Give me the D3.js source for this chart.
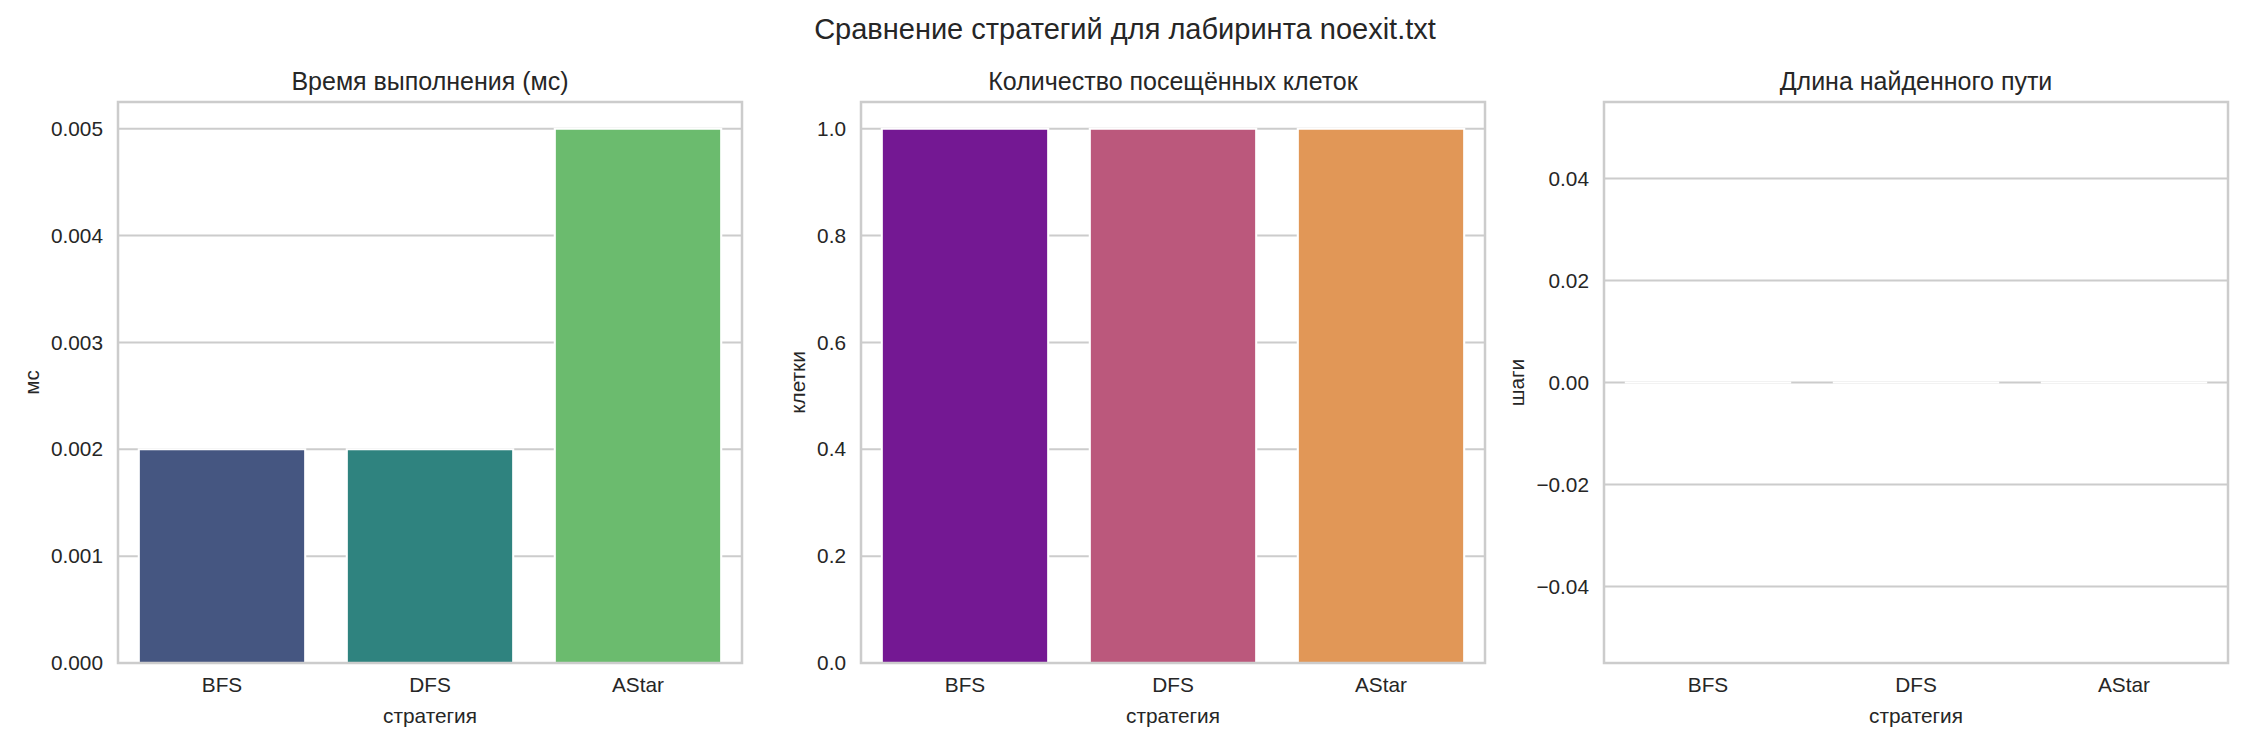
<!DOCTYPE html>
<html>
<head>
<meta charset="utf-8">
<script src="https://cdn.jsdelivr.net/npm/d3@7"></script>
<style>
  body { margin: 0; background: #fff; }
  text { font-family: "Liberation Sans", Arial, sans-serif; fill: #262626; }
</style>
</head>
<body>
<div id="chart"></div>
<script>
// data
const strategies = ["BFS", "DFS", "AStar"]
const timeMs = [0.002, 0.002, 0.005]
const visitedCells = [1, 1, 1]
const pathLength = [0, 0, 0]

const timeTicks = [0, 0.001, 0.002, 0.003, 0.004, 0.005]
const cellTicks = [0, 0.2, 0.4, 0.6, 0.8, 1.0]
const pathTicks = [-0.04, -0.02, 0, 0.02, 0.04]

// seaborn palettes (desaturated to 0.75)
const viridisColors = ["#455681", "#2f837f", "#6bbb6e"]
const plasmaColors = ["#741893", "#bb587c", "#e19757"]
const magmaColors = ["#5b2e78", "#b04f6d", "#ee9a6b"]

const suptitle = "Сравнение стратегий для лабиринта noexit.txt"

const panels = [
  { title: "Время выполнения (мс)", ylabel: "мс", values: timeMs, ticks: timeTicks,
    domain: [0, 0.00525], fmt: d3.format(".3f"), colors: viridisColors },
  { title: "Количество посещённых клеток", ylabel: "клетки", values: visitedCells, ticks: cellTicks,
    domain: [0, 1.05], fmt: d3.format(".1f"), colors: plasmaColors },
  { title: "Длина найденного пути", ylabel: "шаги", values: pathLength, ticks: pathTicks,
    domain: [-0.055, 0.055], fmt: d3.format(".2f"), colors: magmaColors }
]

// layout
const totalW = 2250, totalH = 750
const panelLefts = [118, 861, 1604]
const panelW = 624
const panelTop = 102
const panelH = 561
const gridColor = "#cccccc"

const svg = d3.select("#chart")
  .append("svg")
    .attr("width", totalW)
    .attr("height", totalH)

svg.append("text")
  .attr("x", totalW / 2)
  .attr("y", 39)
  .attr("text-anchor", "middle")
  .style("font-size", "29px")
  .text(suptitle)

panels.forEach((p, i) => {
  const g = svg.append("g")
    .attr("transform", `translate(${panelLefts[i]},${panelTop})`)

  const x = d3.scaleBand()
    .domain(strategies)
    .range([0, panelW])
    .paddingInner(0.2)
    .paddingOuter(0.1)

  const y = d3.scaleLinear()
    .domain(p.domain)
    .range([panelH, 0])

  // horizontal grid
  g.append("g")
    .selectAll("line")
    .data(p.ticks)
    .join("line")
      .attr("x1", 0)
      .attr("x2", panelW)
      .attr("y1", d => y(d))
      .attr("y2", d => y(d))
      .attr("stroke", gridColor)
      .attr("stroke-width", 2)

  // bars, white edge like the seaborn style (path so zero-height bars still show the edge)
  const base = Math.max(p.domain[0], 0)
  g.append("g")
    .selectAll("path")
    .data(strategies)
    .join("path")
      .attr("d", (s, j) => {
        const x0 = x(s), x1 = x(s) + x.bandwidth()
        const y0 = y(base), y1 = y(p.values[j])
        return `M${x0},${y0}H${x1}V${y1}H${x0}Z`
      })
      .attr("fill", (s, j) => p.colors[j])
      .attr("stroke", "#ffffff")
      .attr("stroke-width", 2.1)

  // frame
  g.append("rect")
    .attr("width", panelW)
    .attr("height", panelH)
    .attr("fill", "none")
    .attr("stroke", gridColor)
    .attr("stroke-width", 2.5)

  // y axis labels
  const yAxis = g.append("g")
    .call(d3.axisLeft(y).tickValues(p.ticks).tickFormat(p.fmt).tickSize(0).tickPadding(15))
  yAxis.select(".domain").remove()
  yAxis.selectAll("text")
    .style("font-size", "20.8px")
    .attr("font-family", null)
    .attr("fill", null)

  // x axis labels
  const xAxis = g.append("g")
    .attr("transform", `translate(0,${panelH})`)
    .call(d3.axisBottom(x).tickSize(0))
  xAxis.select(".domain").remove()
  xAxis.selectAll("text")
    .attr("y", 29)
    .attr("dy", null)
    .style("font-size", "20.8px")
    .attr("font-family", null)
    .attr("fill", null)

  // y label sits left of the widest tick label
  let maxW = 0
  yAxis.selectAll("text").each(function() { maxW = Math.max(maxW, this.getBBox().width) })
  const yLabelX = -(15 + maxW + 12)
  g.append("text")
    .attr("transform", `translate(${yLabelX},${panelH / 2}) rotate(-90)`)
    .attr("text-anchor", "middle")
    .style("font-size", "20.8px")
    .text(p.ylabel)

  g.append("text")
    .attr("x", panelW / 2)
    .attr("y", panelH + 60)
    .attr("text-anchor", "middle")
    .style("font-size", "20.8px")
    .text("стратегия")

  g.append("text")
    .attr("x", panelW / 2)
    .attr("y", -12.5)
    .attr("text-anchor", "middle")
    .style("font-size", "25px")
    .text(p.title)
})
</script>
</body>
</html>
